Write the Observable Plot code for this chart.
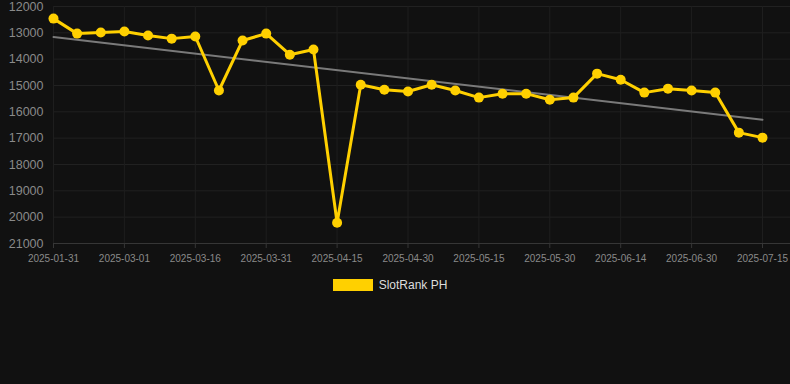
<!DOCTYPE html>
<html>
<head>
<meta charset="utf-8">
<script src="https://cdn.jsdelivr.net/npm/d3@7"></script>
<script src="https://cdn.jsdelivr.net/npm/@observablehq/plot@0.6"></script>
<style>
  html, body { margin: 0; padding: 0; background: #111111; }
  body { width: 790px; height: 384px; overflow: hidden; font-family: "Liberation Sans", Arial, sans-serif; }
  #chart svg { display: block; }
  #legend { display: flex; justify-content: center; align-items: center; margin-top: 8px; padding-right: 10px; color: #dddddd; font-size: 12px; }
  #legend .sw { width: 40px; height: 12px; background: #ffd000; margin-right: 6px; }
</style>
</head>
<body>
<div id="chart"></div>
<div id="legend"><span class="sw"></span><span>SlotRank PH</span></div>
<script>
const dates = ["2025-01-31","2025-02-10","2025-02-20","2025-03-01","2025-03-06","2025-03-11","2025-03-16","2025-03-21","2025-03-26","2025-03-31","2025-04-05","2025-04-10","2025-04-15","2025-04-20","2025-04-25","2025-04-30","2025-05-05","2025-05-10","2025-05-15","2025-05-20","2025-05-25","2025-05-30","2025-06-04","2025-06-09","2025-06-14","2025-06-19","2025-06-24","2025-06-30","2025-07-05","2025-07-10","2025-07-15"];
const ranks = [12460,13030,12990,12950,13100,13220,13140,15190,13290,13030,13830,13630,20210,14970,15160,15230,14970,15190,15460,15310,15310,15540,15460,14550,14780,15270,15120,15190,15270,16790,16980];
const tickLabels = ["2025-01-31","2025-03-01","2025-03-16","2025-03-31","2025-04-15","2025-04-30","2025-05-15","2025-05-30","2025-06-14","2025-06-30","2025-07-15"];
const yTicks = [12000,13000,14000,15000,16000,17000,18000,19000,20000,21000];

const data = dates.map((d, i) => ({i, date: d, rank: ranks[i]}));
const xTicks = tickLabels.map(l => dates.indexOf(l));

const chart = Plot.plot({
  width: 790,
  height: 270,
  marginLeft: 53,
  marginRight: 28,
  marginTop: 6,
  marginBottom: 27,
  style: {background: "#111111", fontFamily: "Liberation Sans, Arial, sans-serif"},
  x: {domain: [0, dates.length - 1]},
  y: {domain: [12000, 21000], reverse: true},
  marks: [
    Plot.ruleY(yTicks, {stroke: "#212121", strokeWidth: 1, insetRight: -28}),
    Plot.ruleX(xTicks, {stroke: "#1e1e1e", strokeWidth: 1}),
    Plot.ruleY([21000], {stroke: "#363636", insetRight: -28}),
    Plot.axisY({ticks: yTicks, tickSize: 0, tickPadding: 10, tickFormat: d => String(d), fill: "#8a8a8a", fontSize: 12.5, label: null}),
    Plot.axisX({ticks: xTicks, tickSize: 5, tickPadding: 6, tickFormat: i => dates[i], fill: "#8a8a8a", stroke: "#363636", fontSize: 10, label: null}),
    Plot.linearRegressionY(data, {x: "i", y: "rank", stroke: "#7a7a7a", strokeWidth: 2, ci: 0}),
    Plot.line(data, {x: "i", y: "rank", stroke: "#ffd000", strokeWidth: 3}),
    Plot.dot(data, {x: "i", y: "rank", r: 5, fill: "#ffd000", stroke: "none"})
  ]
});
document.getElementById("chart").appendChild(chart);
</script>
</body>
</html>
